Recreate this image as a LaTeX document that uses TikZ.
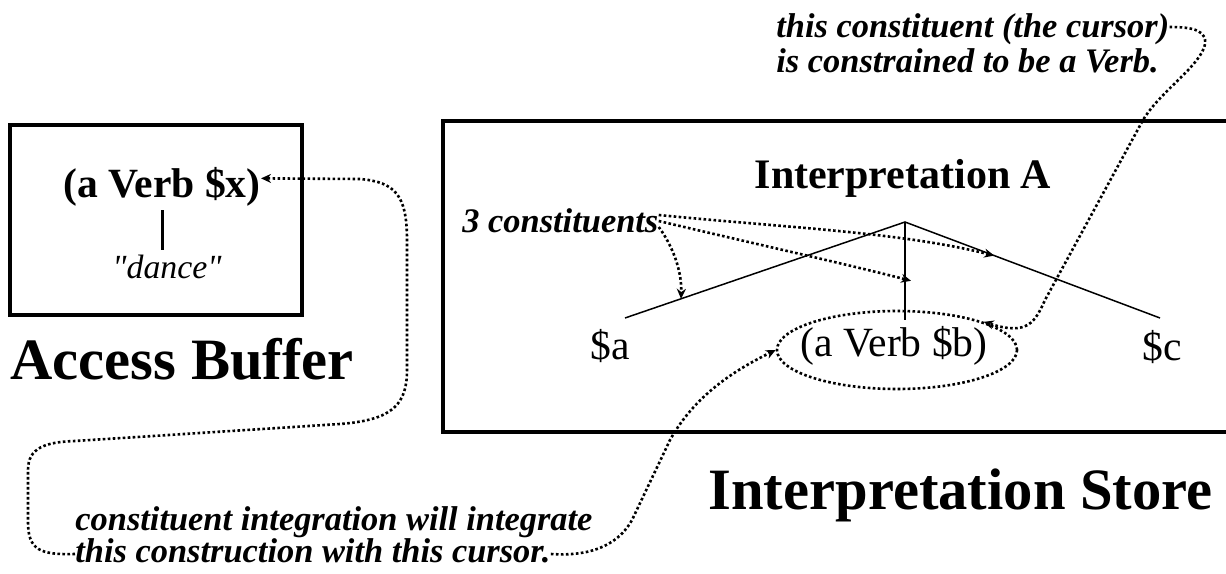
\documentclass[tikz,border=0pt]{standalone}
\usepackage{fontspec}
\setmainfont{Liberation Serif}
\newfontfamily\plainserif{Liberation Serif}
\usetikzlibrary{arrows.meta,shapes.geometric,calc}

\begin{document}
\begin{tikzpicture}[x=0.5pt,y=-0.5pt,
		boxline/.style={line width=1.75pt},
		treeline/.style={line width=0.75pt},
		dotline/.style={line width=1.3pt,dash pattern=on 1.3pt off 1.2pt,-{Stealth[length=5pt,width=4.5pt]}},
		note/.style={font=\fontsize{17.2}{18}\selectfont\bfseries\itshape,inner sep=0pt,text height=11pt,text depth=2pt},
		word/.style={font=\fontsize{20.8}{22}\selectfont,inner sep=0pt},
		title/.style={font=\fontsize{29.3}{30}\selectfont\bfseries,inner sep=0pt}]
		\useasboundingbox (0,0) rectangle (1226,573);
		\def\accessbox{(10,125) rectangle (302,315)}
		\def\storebox{(443,121) rectangle (1232,432)}
		\draw[boxline] \accessbox;
		\draw[boxline] \storebox;
		% access buffer
		\node[word,font=\fontsize{20.8}{22}\selectfont\bfseries,anchor=base] (axv) at (162,197) {(a Verb \$x)};
		\node[word,font=\fontsize{16.9}{18}\selectfont\plainserif\itshape,anchor=base] (dance) at (167,278) {"dance"};
		\draw[line width=1.5pt] ([yshift=-2pt]axv.south) -- ([yshift=2pt]axv.south |- dance.north);
		\node[title,anchor=base west] (abuf) at (10,379) {Access Buffer};
		% interpretation store
		\node[word,font=\fontsize{21}{22}\selectfont\bfseries,anchor=base] (ia) at (903,188) {Interpretation A};
		\coordinate (top) at (905,222);
		\coordinate (la) at (625,318);
		\coordinate (lb) at (905,320);
		\coordinate (lc) at (1160,318);
		\draw[treeline] (la) -- (top) -- (lc);
		\draw[treeline] (top) -- (lb);
		\node[word,anchor=base] (sa) at (610,359) {\$a};
		\node[word,anchor=base] (sc) at (1162,360) {\$c};
		\node[word] (vb) at (894,346) {(a Verb \$b)};
		\node[ellipse,draw,line width=1.3pt,dash pattern=on 1.3pt off 1.2pt,minimum width=120pt,minimum height=39pt] (curs) at (897,350) {};
		\node[title,anchor=base east] (istore) at (1213,509) {Interpretation Store};
		% notes
		\node[note,anchor=base west] (three) at (462,232) {3 constituents};
		\node[note,anchor=base west] (ta) at (776,37) {this constituent (the cursor)};
		\node[note,anchor=base west] (tb) at (776,72) {is constrained to be a Verb.};
		\node[note,anchor=base west] (ba) at (75,530) {constituent integration will integrate};
		\node[note,anchor=base west] (bb) at (75,562) {this construction with this cursor.};
		% dotted arrows
		\draw[dotline] ([yshift=-2pt]three.east) .. controls (672,245) and (682,270) .. ($(top)!0.8!(la)$);
		\draw[dotline] ([yshift=1pt]three.east) .. controls (760,245) and (850,265) .. ($(top)!0.6!(lb)+(6,0)$);
		\draw[dotline] ([yshift=4pt]three.east) .. controls (790,228) and (900,232) .. ($(top)!0.35!(lc)$);
		\draw[dotline] ([yshift=5pt]ta.base east) .. controls (1192,27) and (1210,30) .. (1204,48) .. controls (1195,70) and (1160,92) .. (1143,120) -- (1045,300) .. controls (1035,322) and (1028,336) .. (curs.18);
		\draw[dotline] ([yshift=4pt]bb.base west) .. controls (40,555) and (28,550) .. (28,522) -- (28,470) .. controls (28,448) and (45,442) .. (75,441) -- (340,424) .. controls (392,420) and (407,405) .. (407,370) -- (407,240) .. controls (407,195) and (395,182) .. (360,179) -- ([yshift=4pt]axv.east);
		\draw[dotline] ([yshift=4pt]bb.base east) .. controls (595,557) and (620,542) .. (632,520) -- (670,440) .. controls (695,395) and (735,370) .. (curs.west);
	\end{tikzpicture}
\end{document}
